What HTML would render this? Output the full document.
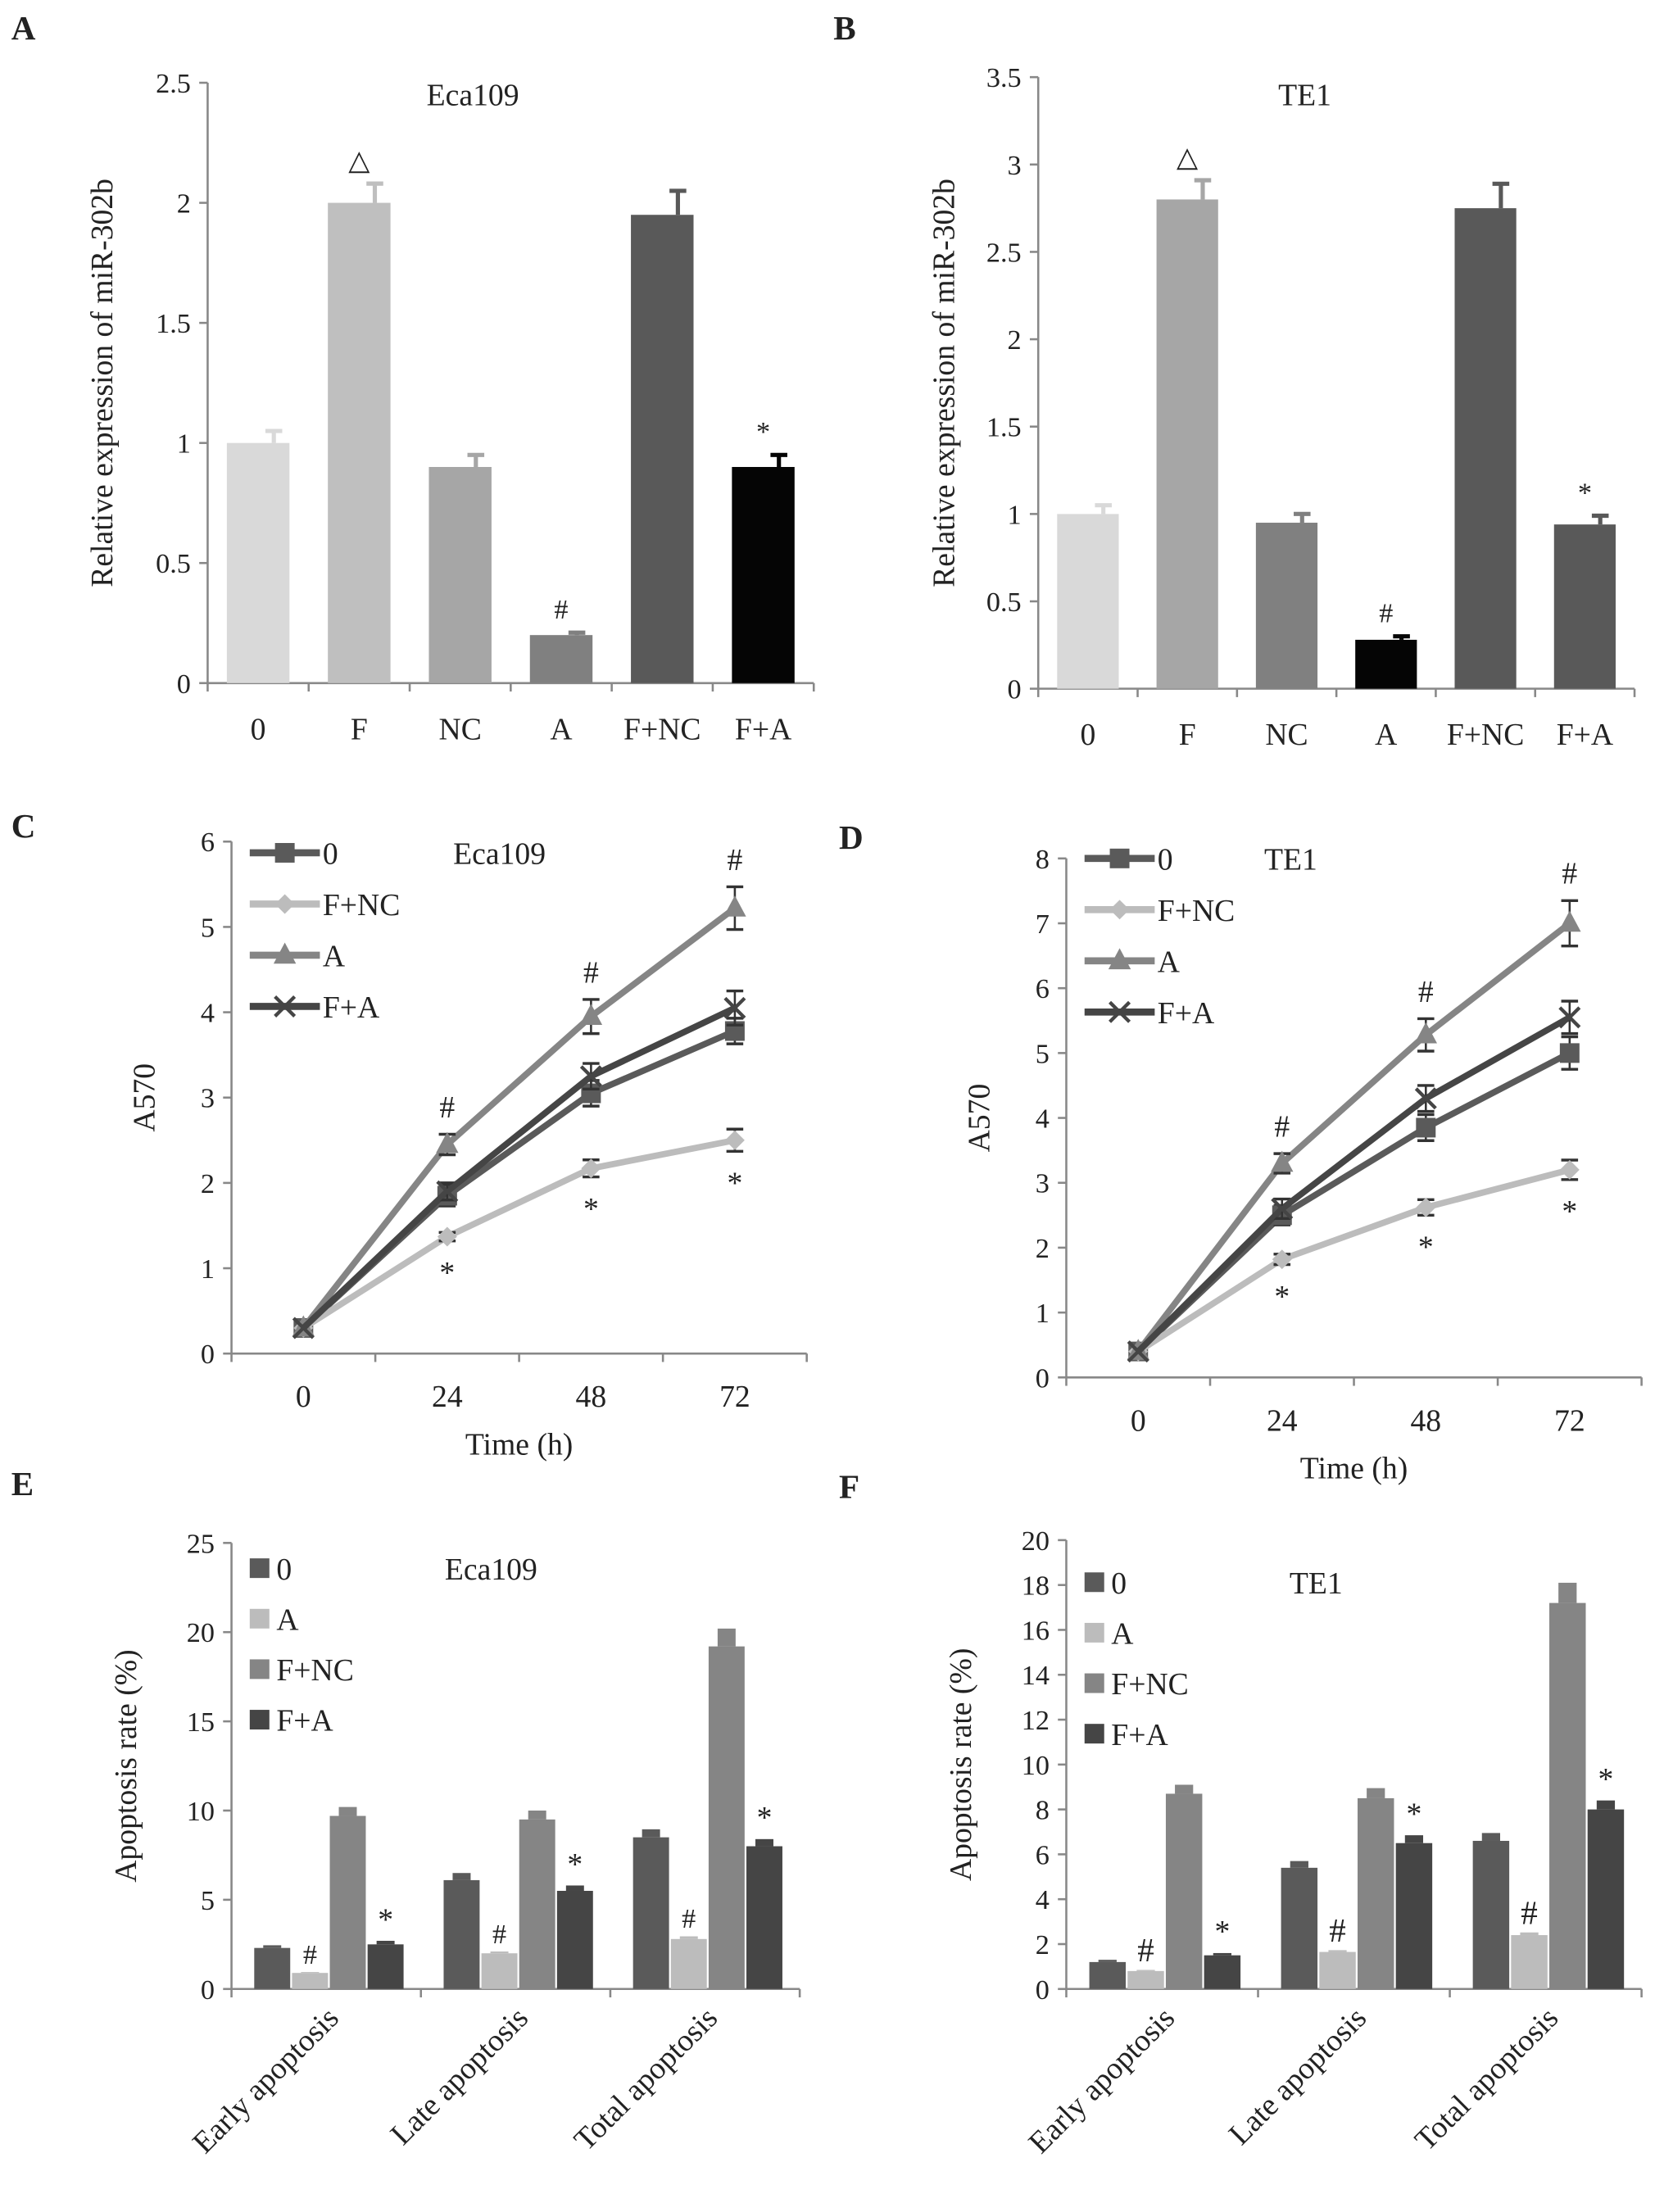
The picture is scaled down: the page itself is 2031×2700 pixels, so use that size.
<!DOCTYPE html>
<html><head><meta charset="utf-8"><style>
html,body{margin:0;padding:0;background:#fff}
svg{display:block;font-family:"Liberation Serif","Times New Roman",serif}
text{font-family:"Liberation Serif","Times New Roman",serif;fill:#222}
</style></head><body>
<svg id="fig" width="2031" height="2700" viewBox="0 0 1186 1577" preserveAspectRatio="none" xmlns="http://www.w3.org/2000/svg" font-family="Liberation Serif, serif"></svg>
<script>
// Panel A/B data
const barCats = ["0","F","NC","A","F+NC","F+A"];
const aVals = [1,2,0.9,0.2,1.95,0.9];
const aErr = [0.05,0.08,0.05,0.01,0.1,0.05];
const aMarks = ["","△","","#","","*"];
const bVals = [1,2.8,0.95,0.28,2.75,0.94];
const bErr = [0.05,0.11,0.05,0.02,0.14,0.05];
const bMarks = ["","△","","#","","*"];
// Panel C/D data
const timeCats = ["0","24","48","72"];
const seriesNames = ["0","F+NC","A","F+A"];
const c0 = [0.3,1.85,3.05,3.78];
const cFNC = [0.3,1.37,2.17,2.5];
const cA = [0.3,2.45,3.95,5.22];
const cFA = [0.3,1.9,3.25,4.05];
const cErrs = [[0,0.12,0.15,0.15],[0,0.05,0.1,0.13],[0,0.12,0.2,0.25],[0,0.1,0.15,0.2]];
const d0 = [0.4,2.5,3.85,5];
const dFNC = [0.4,1.82,2.62,3.2];
const dA = [0.4,3.3,5.28,7];
const dFA = [0.4,2.6,4.3,5.55];
const dErrs = [[0,0.15,0.2,0.25],[0,0.08,0.12,0.15],[0,0.15,0.25,0.35],[0,0.15,0.2,0.25]];
// Panel E/F data
const apoCats = ["Early apoptosis","Late apoptosis","Total apoptosis"];
const apoNames = ["0","A","F+NC","F+A"];
const e0 = [2.3,6.1,8.5], eA = [0.9,2.0,2.8], eFNC = [9.7,9.5,19.2], eFA = [2.5,5.5,8.0];
const eErr0 = [0.15,0.4,0.45], eErrA = [0.05,0.1,0.15], eErrFNC = [0.5,0.5,1.0], eErrFA = [0.2,0.3,0.4];
const f0 = [1.2,5.4,6.6], fA = [0.8,1.65,2.4], fFNC = [8.7,8.5,17.2], fFA = [1.5,6.5,8.0];
const fErr0 = [0.1,0.3,0.35], fErrA = [0.05,0.08,0.12], fErrFNC = [0.4,0.45,0.9], fErrFA = [0.1,0.35,0.4];

const NS="http://www.w3.org/2000/svg";
const svg=document.getElementById('fig');
function mk(tag,attrs,parent,txt){const e=document.createElementNS(NS,tag);for(const k in attrs)e.setAttribute(k,attrs[k]);if(txt!==undefined)e.textContent=txt;(parent||svg).appendChild(e);return e;}
function grp(name){const g=document.createElementNS(NS,'g');


svg.appendChild(g);return g;}
function txt(g,x,y,s,size,anchor,name,extra){const t=mk('text',Object.assign({x:x,y:y,'font-size':size,'text-anchor':anchor||'middle','font-family':'Liberation Serif, serif'},extra||{}),g,s);


return t;}
function yAxis(g,x0,y0,y1,maxV,step,fmt,xEnd){
  const ys=v=>y0-(v/maxV)*(y0-y1);
  mk('line',{x1:x0,y1:y0,x2:x0,y2:y1,stroke:'#888','stroke-width':1.5},g);
  for(let v=0;v<=maxV+1e-9;v+=step){mk('line',{x1:x0-6,y1:ys(v),x2:x0,y2:ys(v),stroke:'#888','stroke-width':1.5},g);
    txt(g,x0-12,ys(v)+7,fmt(v),20,'end','y-tick-label');}
  mk('line',{x1:x0,y1:y0,x2:xEnd,y2:y0,stroke:'#888','stroke-width':1.5},g);
  return ys;}
function letter(s,x,y){const g=grp('panel-label-'+s);txt(g,x,y,s,24,'start','panel-letter',{'font-weight':'bold'});}

function barPanel(name,x0,y0,y1,maxV,step,xEnd,cats,vals,errs,marks,colors,title,tx){
  const g=grp(name);
  const ys=yAxis(g,x0,y0,y1,maxV,step,v=>String(+v.toFixed(1)),xEnd);
  const n=cats.length, w=(xEnd-x0)/n;
  const xs=i=>x0+w*(i+0.5);
  for(let i=0;i<=n;i++)mk('line',{x1:x0+w*i,y1:y0,x2:x0+w*i,y2:y0+6,stroke:'#888','stroke-width':1.5},g);
  cats.forEach((c,i)=>{
    const bw=w*0.62,cx=xs(i),top=ys(vals[i]),etop=ys(vals[i]+errs[i]);
    const r=mk('rect',{x:cx-bw/2,y:top,width:bw,height:y0-top,fill:colors[i]},g);
    
    
    mk('line',{x1:cx+bw/4,y1:top,x2:cx+bw/4,y2:etop,stroke:colors[i],'stroke-width':3},g);
    mk('line',{x1:cx+bw/4-6,y1:etop,x2:cx+bw/4+6,y2:etop,stroke:colors[i],'stroke-width':3},g);
    if(marks[i])txt(g,cx,etop-10,marks[i],20,'middle','significance-mark');
    txt(g,cx,y0+40,c,22,'middle','x-category-label');
  });
  txt(g,tx,75,title,22,'middle','chart-title');
  return g;}

function markerShape(g,type,x,y,col){
  if(type==='sq')mk('rect',{x:x-7,y:y-7,width:14,height:14,fill:col},g);
  else if(type==='di')mk('polygon',{points:`${x},${y-7} ${x+7},${y} ${x},${y+7} ${x-7},${y}`,fill:col},g);
  else if(type==='tr')mk('polygon',{points:`${x},${y-9} ${x+8},${y+6} ${x-8},${y+6}`,fill:col},g);
  else {mk('line',{x1:x-7,y1:y-7,x2:x+7,y2:y+7,stroke:col,'stroke-width':2.5},g);mk('line',{x1:x-7,y1:y+7,x2:x+7,y2:y-7,stroke:col,'stroke-width':2.5},g);}
}
function linePanel(name,x0,y0,y1,maxV,xEnd,series,errs,title,tx,legY){
  const g=grp(name);
  const ys=yAxis(g,x0,y0,y1,maxV,1,v=>String(v),xEnd);
  const n=timeCats.length,w=(xEnd-x0)/n;const xs=i=>x0+w*(i+0.5);
  for(let i=0;i<=n;i++)mk('line',{x1:x0+w*i,y1:y0,x2:x0+w*i,y2:y0+6,stroke:'#888','stroke-width':1.5},g);
  timeCats.forEach((c,i)=>txt(g,xs(i),y0+38,c,22,'middle','x-tick-label'));
  txt(g,(x0+xEnd)/2,y0+72,'Time (h)',22,'middle','x-axis-title');
  txt(g,x0-55,(y0+y1)/2,'A570',22,'middle','y-axis-title',{transform:`rotate(-90 ${x0-55} ${(y0+y1)/2})`});
  const cols=['#5a5a5a','#bcbcbc','#858585','#454545'],types=['sq','di','tr','x'];
  series.forEach((s,k)=>{
    const pts=s.map((v,i)=>xs(i)+','+ys(v)).join(' ');
    const pl=mk('polyline',{points:pts,fill:'none',stroke:cols[k],'stroke-width':4.5},g);
    
    
    s.forEach((v,i)=>{const e=errs[k][i];if(e>0){const a=ys(v+e),b=ys(v-e);
      mk('line',{x1:xs(i),y1:a,x2:xs(i),y2:b,stroke:'#333','stroke-width':1.5},g);
      mk('line',{x1:xs(i)-6,y1:a,x2:xs(i)+6,y2:a,stroke:'#333','stroke-width':2},g);
      mk('line',{x1:xs(i)-6,y1:b,x2:xs(i)+6,y2:b,stroke:'#333','stroke-width':2},g);}
      markerShape(g,types[k],xs(i),ys(v),cols[k]);});
    const ly=legY+k*36.5;
    const le=mk('g',{},g);
    
    
    mk('line',{x1:x0+13,y1:ly,x2:x0+63,y2:ly,stroke:cols[k],'stroke-width':5},le);
    markerShape(le,types[k],x0+38,ly,cols[k]);
    txt(le,x0+65,ly+8,seriesNames[k],22,'start','legend-label');
  });
  const A=series[2],F=series[1];
  for(let i=1;i<n;i++){txt(g,xs(i),ys(A[i]+errs[2][i])-12,'#',22,'middle','significance-hash');
    txt(g,xs(i),ys(F[i]-errs[1][i])+30,'*',22,'middle','significance-star');}
  txt(g,tx,legY+8,title,22,'middle','chart-title');
}
function apoPanel(name,x0,y0,y1,maxV,step,xEnd,groups,errs,title,tx,legY,bigHash){
  const g=grp(name);
  const ys=yAxis(g,x0,y0,y1,maxV,step,v=>String(v),xEnd);
  const n=apoCats.length,w=(xEnd-x0)/n;
  for(let i=0;i<=n;i++)mk('line',{x1:x0+w*i,y1:y0,x2:x0+w*i,y2:y0+6,stroke:'#888','stroke-width':1.5},g);
  const cols=['#5a5a5a','#bcbcbc','#858585','#454545'];
  const bw=w*0.19;
  apoCats.forEach((c,i)=>{
    const gx=x0+w*i+w*0.12;
    groups.forEach((s,k)=>{
      const x=gx+k*bw*1.05,top=ys(s[i]),et=ys(s[i]+errs[k][i]);
      const r=mk('rect',{x:x,y:top,width:bw,height:y0-top,fill:cols[k]},g);
      
      
      mk('rect',{x:x+bw*0.25,y:et,width:bw*0.5,height:top-et,fill:cols[k]},g);
      if(k===1)txt(g,x+bw/2,et-6,'#',bigHash?24:20,'middle','significance-hash');
      if(k===3)txt(g,x+bw/2,et-8,'*',22,'middle','significance-star');
    });
    const cx=x0+w*(i+0.5)+10;
    txt(g,cx,y0+22,c,22,'end','x-category-label',{transform:`rotate(-45 ${cx} ${y0+22})`});
  });
  const ylx=x0-68,yly=(y0+y1)/2;
  txt(g,ylx,yly,'Apoptosis rate (%)',22,'middle','y-axis-title',{transform:`rotate(-90 ${ylx} ${yly})`});
  apoNames.forEach((nm,k)=>{const ly=legY+k*36;
    const le=mk('g',{},g);
    
    
    mk('rect',{x:x0+13,y:ly-7,width:14,height:14,fill:cols[k]},le);
    txt(le,x0+32,ly+8,nm,22,'start','legend-label');});
  txt(g,tx,legY+8,title,22,'middle','chart-title');
}

letter('A',8,28);letter('B',594,28);letter('C',8,597);letter('D',598,605);letter('E',8,1066);letter('F',598,1068);
const ga=barPanel('panel-a-chart',148,487,59,2.5,0.5,580,barCats,aVals,aErr,aMarks,['#d9d9d9','#bfbfbf','#a6a6a6','#808080','#595959','#050505'],'Eca109',337);
txt(ga,80,273,'Relative expression of  miR-302b',22,'middle','y-axis-title',{transform:'rotate(-90 80 273)'});
const gb=barPanel('panel-b-chart',740,491,55,3.5,0.5,1165,barCats,bVals,bErr,bMarks,['#d9d9d9','#a6a6a6','#808080','#050505','#595959','#595959'],'TE1',930);
txt(gb,680,273,'Relative expression of miR-302b',22,'middle','y-axis-title',{transform:'rotate(-90 680 273)'});
linePanel('panel-c-chart',165,965,600,6,575,[c0,cFNC,cA,cFA],cErrs,'Eca109',356,608);
linePanel('panel-d-chart',760,982,612,8,1170,[d0,dFNC,dA,dFA],dErrs,'TE1',920,612);
apoPanel('panel-e-chart',165,1418,1100,25,5,570,[e0,eA,eFNC,eFA],[eErr0,eErrA,eErrFNC,eErrFA],'Eca109',350,1118,false);
apoPanel('panel-f-chart',760,1418,1098,20,2,1170,[f0,fA,fFNC,fFA],[fErr0,fErrA,fErrFNC,fErrFA],'TE1',938,1128,true);
</script>
</body></html>
